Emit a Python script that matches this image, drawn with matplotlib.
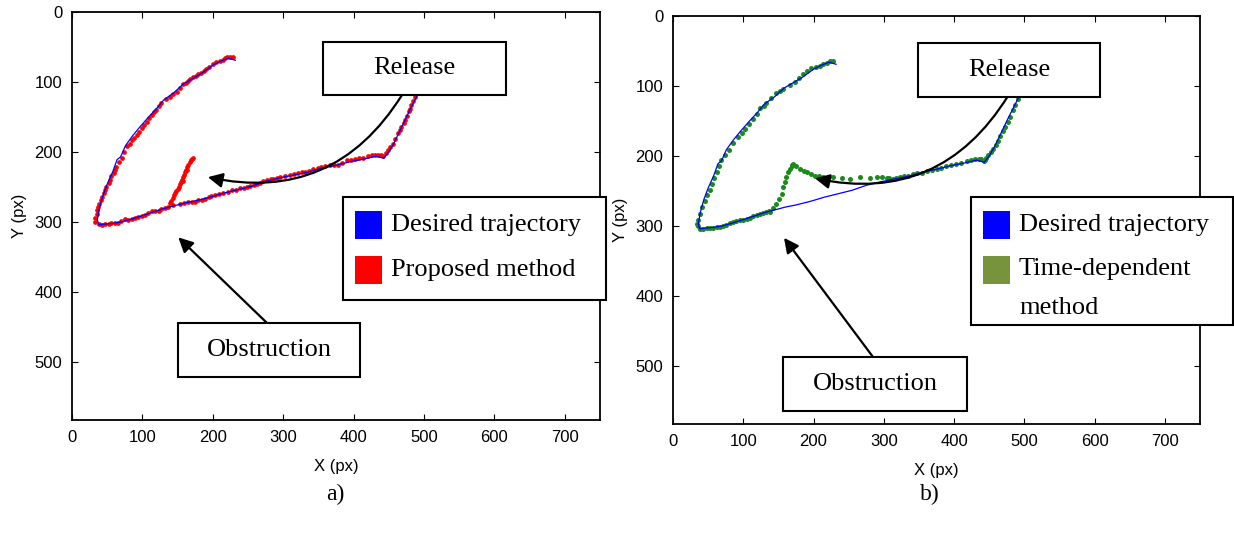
"""Trajectory comparison: proposed vs time-dependent method"""
import matplotlib.pyplot as plt
from matplotlib.patches import Rectangle

W, H = 1234, 536
SERIF = 'Liberation Serif'
SANS = 'Liberation Sans'

# desired trajectory (same in both panels)
desired_x = [232, 222, 212, 200, 185, 170, 158, 145, 130, 120, 108, 95, 86, 76, 69, 64,
             58, 50, 44, 39, 36, 38, 46, 58, 70, 84, 100, 115, 130, 145, 160, 175, 195,
             215, 235, 255, 275, 295, 315, 335, 355, 375, 395, 415, 432, 443, 450, 458,
             467, 476, 485, 491]
desired_y = [69, 66, 70, 76, 87, 96, 103, 115, 126, 138, 151, 166, 177, 191, 207, 211,
             228, 246, 262, 280, 297, 304, 303, 302, 300, 296, 291, 286, 281, 277, 273,
             270, 265, 259, 254, 249, 242, 237, 233, 229, 223, 219, 214, 210, 206, 209,
             200, 186, 167, 148, 130, 118]

# a) proposed method
proposed_x = [228, 224, 220, 217, 214, 210, 205, 200, 195, 191, 187, 183, 179, 176, 172,
              168, 165, 162, 158, 154, 149, 144, 139, 133, 127, 123, 120, 117, 113, 110,
              106, 102, 99, 95, 92, 88, 85, 82, 78, 74, 71, 67, 63, 61, 59, 56, 54, 52,
              49, 47, 45, 43, 41, 39, 37, 36, 35, 33, 32,
              39, 43, 47, 52, 56, 61, 66, 70, 75, 80, 85, 89, 94, 99, 104, 108, 113, 118,
              123, 127, 132, 136, 139,
              141, 143, 145, 146, 148, 150, 152, 153, 155, 156, 157, 158, 159, 161, 162,
              163, 164, 165, 167, 169, 170, 172,
              144, 153, 159, 165, 170, 175, 179, 184, 189, 194, 198, 203, 209, 215, 221,
              227, 233, 239, 244, 248, 253, 258, 263, 267, 272, 277, 282, 286, 291, 295,
              303, 310, 316, 321, 326, 331, 337, 343, 349, 354, 360, 366, 372, 378, 384,
              390, 396, 402, 408, 414, 420, 426, 431, 435, 439, 442, 446, 449, 452, 456,
              459, 463, 466, 468, 471, 473, 476, 478, 480, 482, 485, 487]
proposed_y = [64, 64, 65, 66, 68, 70, 72, 75, 78, 81, 85, 87, 89, 91, 93,
              96, 99, 101, 103, 108, 114, 117, 121, 125, 130, 135, 140, 143, 147, 152,
              157, 161, 166, 171, 176, 180, 183, 188, 192, 200, 209, 215, 221, 226, 230,
              235, 240, 245, 250, 255, 259, 264, 269, 274, 278, 283, 288, 294, 300,
              303, 304, 303, 303, 302, 302, 301, 299, 296, 297, 296, 295, 293, 292, 290,
              287, 285, 285, 284, 282, 280, 279, 273,
              270, 266, 262, 259, 256, 253, 250, 246, 243, 240, 241, 236, 233, 229, 226,
              226, 222, 219, 215, 212, 210, 209,
              276, 274, 273, 272, 271, 271, 269, 268, 267, 265, 263, 261, 260, 258, 257,
              255, 254, 252, 251, 250, 248, 247, 246, 244, 242, 240, 239, 238, 237, 236,
              234, 233, 232, 230, 229, 228, 227, 225, 223, 221, 220, 219, 219, 219, 216,
              212, 211, 210, 209, 208, 206, 204, 204, 204, 205, 206, 202, 197, 193, 188,
              181, 173, 169, 164, 159, 154, 148, 142, 138, 133, 127, 121]

# b) time-dependent method
timedep_x = [228, 224, 219, 214, 209, 203, 197, 191, 185, 180, 174, 166, 157, 152, 147,
             140, 133, 129, 124, 119, 114, 108, 103, 98, 93, 86, 79, 74, 69, 65, 62, 58,
             55, 52, 48, 45, 41, 38, 35, 34, 36,
             38, 43, 48, 52, 57, 62, 67, 71, 76, 81, 86, 90, 95, 100, 105, 109, 114, 119,
             124, 128, 133, 136, 138, 142,
             147, 151, 155, 157, 159, 161, 164, 166, 169, 170, 171, 175, 181, 186, 190,
             196, 202, 208, 214, 228, 240, 252, 266, 280, 290, 297, 304, 308, 313, 318,
             323, 329, 335, 341, 347, 354, 361, 368, 375, 382, 389, 396, 403, 410, 418,
             424, 430, 435, 439, 442, 444, 446, 449, 452, 456, 460, 463, 466, 470, 473,
             477, 480, 484, 487, 491]
timedep_y = [64, 65, 67, 69, 71, 73, 75, 79, 83, 88, 94, 99, 104, 107, 110,
             117, 124, 128, 132, 140, 147, 154, 161, 167, 173, 182, 192, 199, 206, 214,
             223, 231, 240, 248, 256, 264, 273, 283, 292, 297, 300,
             304, 304, 303, 303, 303, 302, 301, 300, 298, 296, 294, 293, 292, 291, 290,
             288, 286, 285, 283, 282, 280, 279, 280, 274,
             268, 261, 254, 245, 237, 230, 223, 218, 214, 213, 212, 215, 218, 221, 223,
             226, 228, 229, 230, 230, 231, 233, 230, 231, 230, 230, 231, 232, 233, 231,
             230, 229, 228, 226, 225, 224, 222, 220, 218, 217, 215, 213, 212, 210, 207,
             206, 204, 204, 204, 207, 206, 203, 199, 195, 190, 184, 178, 171, 164, 158,
             152, 144, 135, 127, 118]


def fig_xy(px, py):
    return px / W, 1 - py / H


def style(ax):
    ax.set_xlim(0, 750)
    ax.set_ylim(583, 0)
    ax.set_xticks(range(0, 800, 100))
    ax.set_yticks(range(0, 600, 100))
    ax.tick_params(direction='in', length=4, top=True, right=True, labelsize=12, pad=7)
    for lab in ax.get_xticklabels() + ax.get_yticklabels():
        lab.set_family(SANS)
    for s in ax.spines.values():
        s.set_linewidth(1.3)
    ax.set_xlabel('X (px)', fontsize=12, family=SANS, labelpad=10)
    ax.set_ylabel('Y (px)', fontsize=12, family=SANS, labelpad=5)


def box(x0, y0, x1, y1, text=None):
    fx0, fy1 = fig_xy(x0, y1)
    fx1, fy0 = fig_xy(x1, y0)
    fig.patches.append(Rectangle((fx0, fy1), fx1 - fx0, fy0 - fy1, transform=fig.transFigure,
                                 facecolor='white', edgecolor='black', lw=1.5, zorder=5))
    if text:
        fig.text((fx0 + fx1) / 2, (fy0 + fy1) / 2, text, ha='center', va='center',
                 fontsize=19, family=SERIF, zorder=6)


def legend(x0, y0, x1, y1, entries):
    box(x0, y0, x1, y1)
    for (color, label, sq_y, txt_y) in entries:
        sx0, sy1 = fig_xy(x0 + 12, sq_y + 14)
        sx1, sy0 = fig_xy(x0 + 39, sq_y - 14)
        fig.patches.append(Rectangle((sx0, sy1), sx1 - sx0, sy0 - sy1, transform=fig.transFigure,
                                     facecolor=color, edgecolor='none', zorder=7))
        tx, tyf = fig_xy(x0 + 48, txt_y)
        fig.text(tx, tyf, label, ha='left', va='center', fontsize=19, family=SERIF,
                 linespacing=2.0, zorder=7)


def arrow(ax, head, tail_px, rad=0.0):
    ax.annotate('', xy=head, xycoords='data', xytext=fig_xy(*tail_px),
                textcoords='figure fraction',
                arrowprops=dict(arrowstyle='-|>', color='black', lw=1.6, mutation_scale=22,
                                shrinkA=0, shrinkB=0,
                                connectionstyle='arc3,rad=%s' % rad),
                annotation_clip=False, zorder=4)


fig = plt.figure(figsize=(W / 100, H / 100), dpi=100)
fig.patch.set_facecolor('white')
axL = fig.add_axes([72 / W, 1 - 420 / H, 528 / W, 408 / H])
axR = fig.add_axes([673 / W, 1 - 424 / H, 527 / W, 408 / H])

# a)
style(axL)
axL.plot(proposed_x, proposed_y, 'o', ms=3.4, color='red', mec='none')
axL.plot(desired_x, desired_y, color='blue', lw=0.9)
arrow(axL, (193, 236), (402, 95), rad=-0.35)
arrow(axL, (151, 322), (267, 323))
box(323, 42, 506, 95, 'Release')
box(178, 323, 360, 377, 'Obstruction')
legend(343, 197, 606, 300, [('blue', 'Desired trajectory', 225, 225),
                            ('red', 'Proposed method', 270, 270)])

# b)
style(axR)
axR.plot(timedep_x, timedep_y, 'o', ms=3.6, color='#1a8a1a', mec='none')
axR.plot(desired_x, desired_y, color='blue', lw=0.9)
arrow(axR, (202, 232), (1008, 96), rad=-0.35)
arrow(axR, (158, 317), (873, 357))
box(918, 43, 1100, 97, 'Release')
box(783, 357, 967, 411, 'Obstruction')
legend(971, 197, 1233, 325, [('blue', 'Desired trajectory', 225, 225),
                             ('#77933C', 'Time-dependent\nmethod', 270, 289)])

fig.text(*fig_xy(335, 494), 'a)', ha='center', va='center', fontsize=17, family=SERIF)
fig.text(*fig_xy(930, 494), 'b)', ha='center', va='center', fontsize=17, family=SERIF)

plt.savefig('out.png', dpi=100, facecolor='white')
plt.close()
